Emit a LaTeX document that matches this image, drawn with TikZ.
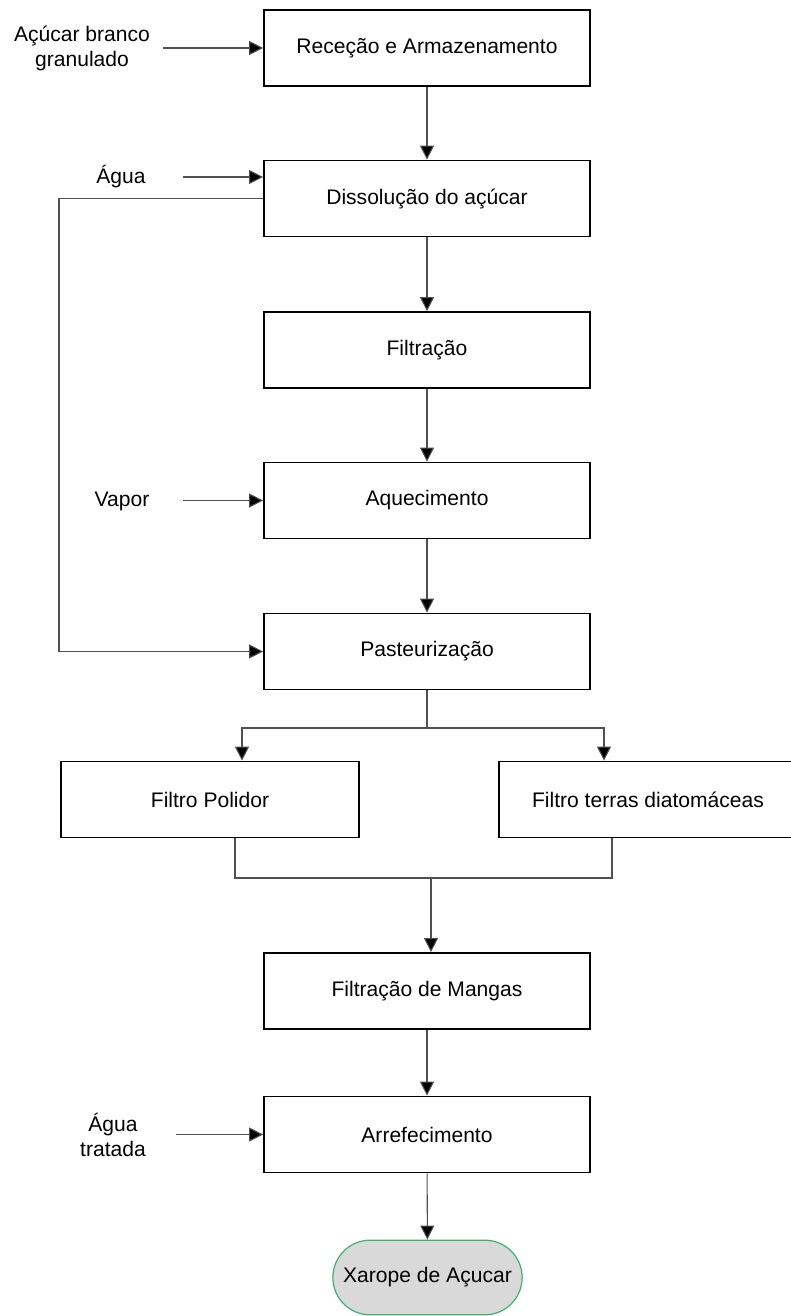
\documentclass[tikz,border=0pt]{standalone}
\usepackage{fontspec}
\setmainfont{Liberation Sans}
\usetikzlibrary{arrows.meta}

\begin{document}
\begin{tikzpicture}[x=0.75pt,y=0.75pt,yscale=-1,xscale=1,
	font=\fontsize{15.8pt}{18.75pt}\selectfont,
	stepbox/.style={draw=black,line width=1.3pt,minimum width=244.5pt,minimum height=57pt,inner sep=0pt},
	filterbox/.style={stepbox,minimum width=223.5pt},
	endbox/.style={draw={rgb,255:red,60;green,180;blue,110},fill={rgb,255:red,217;green,217;blue,217},line width=0.9pt,rounded corners=28pt,minimum width=142pt,minimum height=56pt,inner sep=0pt},
	inlabel/.style={align=center,inner sep=0.75pt},
	link/.style={draw={rgb,255:red,80;green,80;blue,80},line width=0.8pt},
	flow/.style={link,-{Triangle[length=10.5pt,width=10.5pt,fill=black]}}]
	\useasboundingbox (0,0) rectangle (790,1316);
	\node [stepbox] (rec) at (427,48) {Receção e Armazenamento};
	\node [stepbox] (dis) at (427,198.5) {Dissolução do açúcar};
	\node [stepbox] (fil) at (427,350) {Filtração};
	\node [stepbox] (aq) at (427,500.5) {Aquecimento};
	\node [stepbox] (past) at (427,651.5) {Pasteurização};
	\node [filterbox] (pol) at (210,799.5) {Filtro Polidor};
	\node [filterbox] (ter) at (648,799.5) {Filtro terras diatomáceas};
	\node [stepbox] (man) at (427,991) {Filtração de Mangas};
	\node [stepbox] (arr) at (427,1134.5) {Arrefecimento};
	\node [endbox] (xar) at (427.5,1277.5) {Xarope de Açucar};
	\node [inlabel] (lsug) at (82,48) {Açúcar branco\\granulado};
	\node [inlabel] (lwat) at (121,177) {Água};
	\node [inlabel] (lvap) at (122,501) {Vapor};
	\node [inlabel] (ltre) at (113,1135) {Água\\tratada};
	\coordinate (insug) at (163,48);
	\coordinate (inwat) at (183,177);
	\coordinate (invap) at (183,500.5);
	\coordinate (intre) at (176,1134.5);
	\coordinate (loop) at (59,198.5);
	\coordinate (split) at (427,728);
	\coordinate (join) at (431,878);
	\draw [flow] (insug) -- (rec.west);
	\draw [flow] (inwat) -- (inwat -| dis.west);
	\draw [flow] (invap) -- (aq.west);
	\draw [flow] (intre) -- (arr.west);
	\draw [flow] (rec) -- (dis);
	\draw [flow] (dis) -- (fil);
	\draw [flow] (fil) -- (aq);
	\draw [flow] (aq) -- (past);
	\draw [link] (dis.west) -- (loop);
	\draw [flow] (loop) |- (past.west);
	\draw [link] (past.south) -- (split);
	\draw [flow] (split) -| ([xshift=24pt]pol.north);
	\draw [flow] (split) -| ([xshift=-33pt]ter.north);
	\draw [link] ([xshift=18.75pt]pol.south) |- (join) -| ([xshift=-27pt]ter.south);
	\draw [flow] (join) -- (join |- man.north);
	\draw [flow] (man) -- (arr);
	\draw [flow] (arr) -- (xar);
\end{tikzpicture}
\end{document}
